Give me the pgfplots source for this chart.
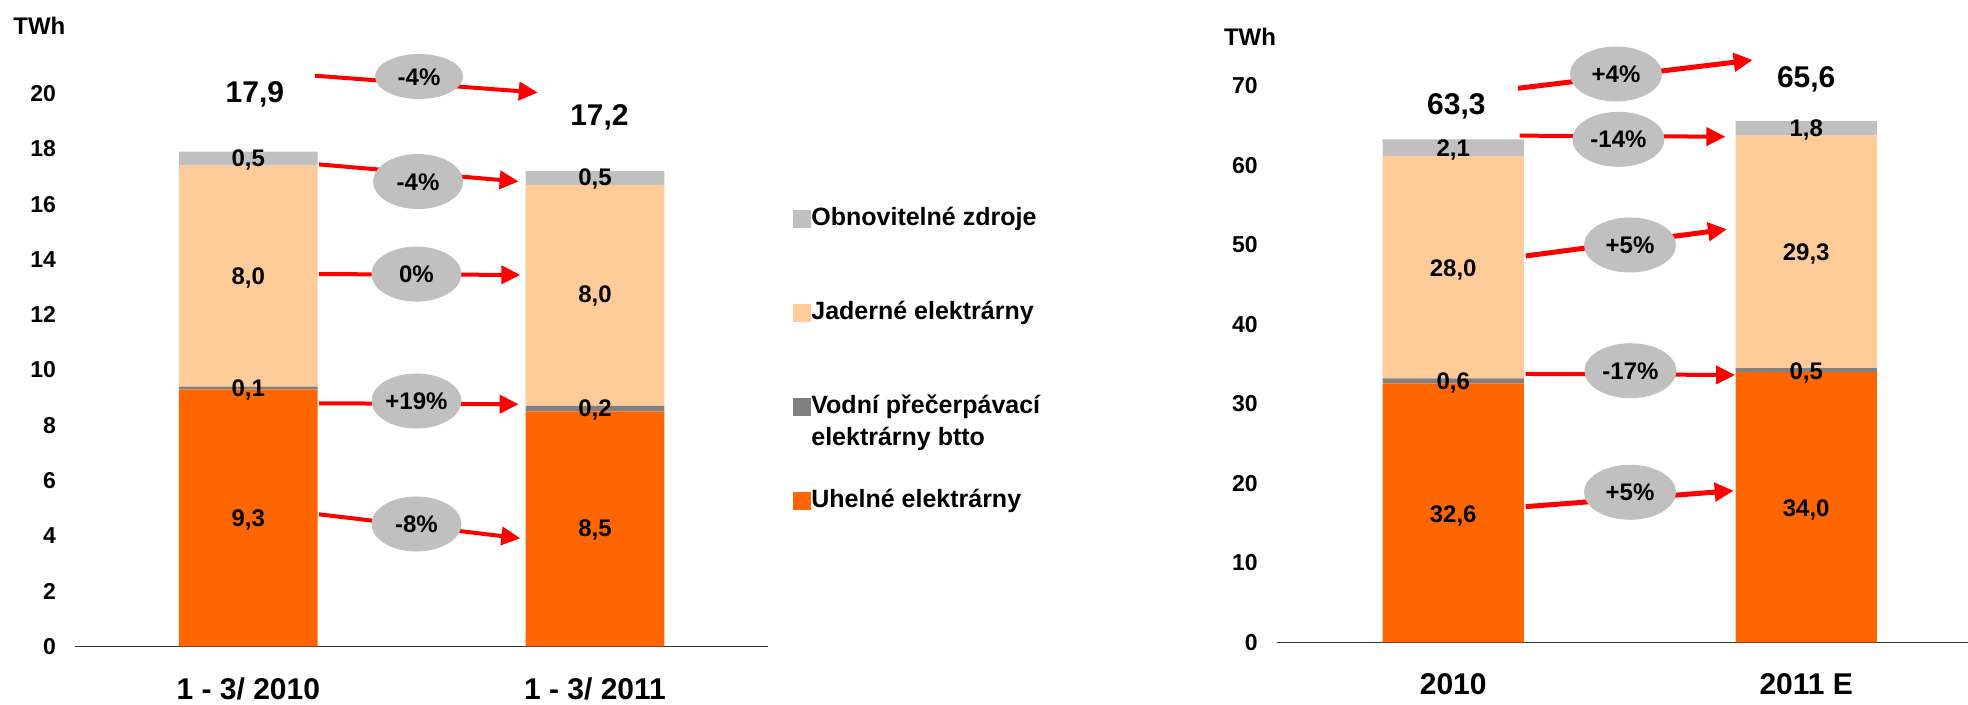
\documentclass[border=0pt]{standalone}
\usepackage{fontspec}
\setmainfont{Liberation Sans}
\usepackage{pgfplots}
\pgfplotsset{compat=1.18}
\usetikzlibrary{arrows.meta,shapes.geometric}
\definecolor{coal}{HTML}{FF6600}
\definecolor{pump}{HTML}{808080}
\definecolor{nucl}{HTML}{FFCC99}
\definecolor{renew}{HTML}{C0C0C0}
\definecolor{bubble}{HTML}{C0C0C0}
\definecolor{arrred}{HTML}{FF0000}
\pgfplotsset{
  sqlegend/.style={legend image code/.code={\fill[##1] (0pt,-4.55pt) rectangle (9pt,4.45pt);}},
  geomL/.style={scale only axis, at={(37.5pt,29.35pt)}, anchor=south west,
    width=346.65pt, height=303.95pt, xmin=-0.5, xmax=1.5, ymin=0, ymax=22, clip=false},
  geomR/.style={scale only axis, at={(638.35pt,31.35pt)}, anchor=south west,
    width=353pt, height=301.95pt, xmin=-0.5, xmax=1.5, ymin=0, ymax=76, clip=false},
  overlay/.style={hide axis},
  mybase/.style={
    ybar stacked, bar width=0.4, xtick={0,1},
    axis lines*=left,
    y axis line style={draw=none},
    x axis line style={-, draw=black!80, line width=0.75pt},
    major tick length=0pt, tick style={draw=none},
    xticklabel style={font=\fontsize{15}{18}\selectfont\bfseries, yshift=-12pt},
    yticklabel style={font=\fontsize{11.5}{14}\selectfont\bfseries, /pgf/number format/assume math mode=true, xshift=-6pt},
  }
}
\tikzset{
  lbl/.style={font=\fontsize{12}{14}\selectfont\bfseries, text height=8.6pt, text depth=0pt, inner sep=0pt},
  tot/.style={font=\fontsize{15}{18}\selectfont\bfseries, text height=10.7pt, text depth=0pt, inner sep=0pt},
  bub/.style={ellipse, fill=bubble, inner sep=0pt, minimum width=45pt, minimum height=27.5pt,
    font=\fontsize{12}{14}\selectfont\bfseries, text height=8.6pt, text depth=0pt},
  arr/.style={draw=arrred, line width=2pt, -{Triangle[length=9.5pt,width=9pt]}},
  arrb/.style={draw=arrred, line width=2.5pt, -{Triangle[length=9.5pt,width=9pt]}},
}
\begin{document}
\begin{tikzpicture}
\useasboundingbox (0pt,0pt) rectangle (984pt,352.5pt);
% ---------------- left chart ----------------
\begin{axis}[geomL, mybase,
  ytick={0,2,...,20},
  xticklabels={1 - 3/ 2010, 1 - 3/ 2011},
  reverse legend, legend cell align=left,
  legend style={at={(1.0356,0.7227)}, anchor=north west, draw=none, fill=none,
    inner sep=0pt, row sep=35.4pt,
    font=\fontsize{12.5}{16}\selectfont\bfseries,
    nodes={text height=9pt, text depth=2.6pt, inner sep=0pt}},
]
\addplot[fill=coal, draw=none, sqlegend] coordinates {(0,9.3) (1,8.5)};
\addlegendentry{Uhelné elektrárny}
\addplot[fill=pump, draw=none, sqlegend] coordinates {(0,0.1) (1,0.2)};
\addlegendentry{\begin{tabular}[t]{@{}l@{}}Vodní přečerpávací\\elektrárny btto\end{tabular}}
\addplot[fill=nucl, draw=none, sqlegend] coordinates {(0,8.0) (1,8.0)};
\addlegendentry{Jaderné elektrárny}
\addplot[fill=renew, draw=none, sqlegend] coordinates {(0,0.5) (1,0.5)};
\addlegendentry{Obnovitelné zdroje}
\end{axis}
\begin{axis}[geomL, overlay]
\draw[arr] (axis cs:0.192,20.65) -- (axis cs:0.835,20.04);
\draw[arr] (axis cs:0.2036,17.44) -- (axis cs:0.7797,16.82);
\draw[arr] (axis cs:0.2036,13.47) -- (axis cs:0.7846,13.44);
\draw[arr] (axis cs:0.2036,8.795) -- (axis cs:0.7797,8.759);
\draw[arr] (axis cs:0.2036,4.777) -- (axis cs:0.7846,3.909);
\end{axis}
\begin{axis}[geomL, overlay]
\node[lbl] at (axis cs:0,4.65) {9,3};
\node[lbl] at (axis cs:0,9.35) {0,1};
\node[lbl] at (axis cs:0,13.42) {8,0};
\node[lbl] at (axis cs:0,17.67) {0,5};
\node[lbl] at (axis cs:1,4.3) {8,5};
\node[lbl] at (axis cs:1,8.62) {0,2};
\node[lbl] at (axis cs:1,12.75) {8,0};
\node[lbl] at (axis cs:1,16.97) {0,5};
\node[tot] at (axis cs:0.019,20.07) {17,9};
\node[tot] at (axis cs:1.013,19.25) {17,2};
\node[font=\fontsize{12}{14}\selectfont\bfseries, inner sep=0pt] at (axis cs:-0.6028,22.46) {TWh};
\node[bub, minimum width=44pt, minimum height=22.5pt] at (axis cs:0.4925,20.62) {-4\%};
\node[bub] at (axis cs:0.4896,16.82) {-4\%};
\node[bub] at (axis cs:0.485,13.47) {0\%};
\node[bub] at (axis cs:0.485,8.878) {+19\%};
\node[bub] at (axis cs:0.485,4.426) {-8\%};
\end{axis}
% ---------------- right chart ----------------
\begin{axis}[geomR, mybase,
  ytick={0,10,...,70},
  xticklabels={2010, 2011 E},
]
\addplot[fill=coal, draw=none] coordinates {(0,32.6) (1,34.0)};
\addplot[fill=pump, draw=none] coordinates {(0,0.6) (1,0.5)};
\addplot[fill=nucl, draw=none] coordinates {(0,28.0) (1,29.3)};
\addplot[fill=renew, draw=none] coordinates {(0,2.1) (1,1.8)};
\end{axis}
\begin{axis}[geomR, overlay]
\draw[arrb] (axis cs:0.1836,69.72) -- (axis cs:0.8484,73.28);
\draw[arr] (axis cs:0.1884,63.76) -- (axis cs:0.7711,63.63);
\draw[arrb] (axis cs:0.2054,48.62) -- (axis cs:0.7756,51.98);
\draw[arr] (axis cs:0.2054,33.77) -- (axis cs:0.7983,33.64);
\draw[arrb] (axis cs:0.2054,17.07) -- (axis cs:0.7946,19.08);
\end{axis}
\begin{axis}[geomR, overlay]
\node[lbl] at (axis cs:0,16.2) {32,6};
\node[lbl] at (axis cs:0,32.85) {0,6};
\node[lbl] at (axis cs:0,47.1) {28,0};
\node[lbl] at (axis cs:0,62.25) {2,1};
\node[lbl] at (axis cs:1,16.9) {34,0};
\node[lbl] at (axis cs:1,34.14) {0,5};
\node[lbl] at (axis cs:1,49.16) {29,3};
\node[lbl] at (axis cs:1,64.69) {1,8};
\node[tot] at (axis cs:0.009,67.72) {63,3};
\node[tot] at (axis cs:1.0,71.18) {65,6};
\node[font=\fontsize{12}{14}\selectfont\bfseries, inner sep=0pt] at (axis cs:-0.5756,76.21) {TWh};
\node[bub, minimum width=46pt] at (axis cs:0.4612,71.52) {+4\%};
\node[bub, minimum width=46pt] at (axis cs:0.468,63.30) {-14\%};
\node[bub, minimum width=46pt] at (axis cs:0.5008,50.0) {+5\%};
\node[bub, minimum width=46pt] at (axis cs:0.502,34.18) {-17\%};
\node[bub, minimum width=46pt] at (axis cs:0.5008,18.88) {+5\%};
\end{axis}
\end{tikzpicture}
\end{document}
